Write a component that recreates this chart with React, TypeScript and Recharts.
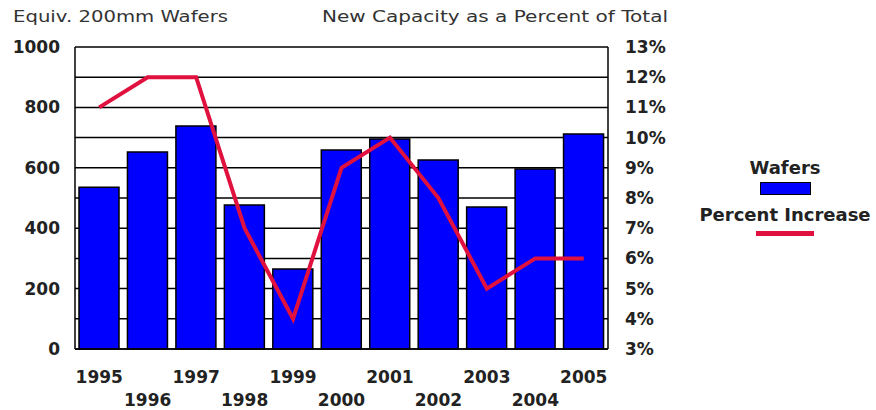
import { ComposedChart, Bar, Line, XAxis, YAxis, CartesianGrid, Legend } from 'recharts';

const years = ['1995', '1996', '1997', '1998', '1999', '2000', '2001', '2002', '2003', '2004', '2005'];
const wafers = [536, 652, 738, 477, 265, 659, 695, 626, 470, 596, 712];
const percentIncrease = [11, 12, 12, 7, 4, 9, 10, 8, 5, 6, 6];
const waferTicks = [0, 200, 400, 600, 800, 1000];
const percentTicks = [3, 4, 5, 6, 7, 8, 9, 10, 11, 12, 13];

const data = years.map((year, i) => ({ year, wafers: wafers[i], percent: percentIncrease[i] }));

const FONT = '"DejaVu Sans", sans-serif';
const tickStyle = { fontSize: 17, fontWeight: 'bold' as const, fill: '#222', fontFamily: FONT };

// years alternate between two rows under the axis
const YearTick = ({ x, y, payload, index }: any) => (
  <text x={x} y={y + (index % 2 === 0 ? 32 : 55)} textAnchor="middle" {...tickStyle}>
    {payload.value}
  </text>
);

// bar entry first, then the line
const LegendBox = ({ payload }: any) => {
  const items = [...(payload || [])].sort((a: any, b: any) => (a.type === 'line' ? 1 : 0) - (b.type === 'line' ? 1 : 0));
  return (
    <div style={{ textAlign: 'center', fontFamily: FONT, fontWeight: 'bold', color: '#222' }}>
      {items.map((entry: any) => (
        <div key={entry.value}>
          <div style={{ fontSize: 18, lineHeight: '20px' }}>{entry.value}</div>
          {entry.type === 'line' ? (
            <div style={{ width: 58, height: 5, background: '#E0103F', margin: '6px auto 0' }} />
          ) : (
            <div
              style={{
                width: 49,
                height: 11,
                background: '#0000FF',
                border: '1px solid #000',
                margin: '4px auto 10px',
              }}
            />
          )}
        </div>
      ))}
    </div>
  );
};

export default function App() {
  return (
    <div style={{ position: 'absolute', left: 0, top: 0, background: '#fff' }}>
      <ComposedChart
        width={876}
        height={410}
        data={data}
        margin={{ top: 47, right: 208, bottom: 0, left: 0 }}
        style={{ fontFamily: FONT }}
      >
        <text x={13} y={22} fontSize={15} fill="#333" textLength={215} lengthAdjust="spacingAndGlyphs">
          Equiv. 200mm Wafers
        </text>
        <text x={322} y={22} fontSize={15} fill="#333" textLength={346} lengthAdjust="spacingAndGlyphs">
          New Capacity as a Percent of Total
        </text>
        <CartesianGrid yAxisId="right" vertical={false} stroke="#000" strokeWidth={1.5} />
        <XAxis
          dataKey="year"
          interval={0}
          height={61}
          tickLine={false}
          tickSize={0}
          axisLine={{ stroke: '#000', strokeWidth: 1.5 }}
          tick={<YearTick />}
        />
        <YAxis
          yAxisId="left"
          domain={[0, 1000]}
          ticks={waferTicks}
          width={75}
          tickLine={false}
          tickSize={0}
          tickMargin={15}
          axisLine={{ stroke: '#000', strokeWidth: 1.5 }}
          tick={tickStyle}
        />
        <YAxis
          yAxisId="right"
          orientation="right"
          domain={[3, 13]}
          ticks={percentTicks}
          tickFormatter={(v) => `${v}%`}
          width={60}
          tickLine={false}
          tickSize={0}
          tickMargin={17}
          axisLine={{ stroke: '#000', strokeWidth: 1.5 }}
          tick={tickStyle}
        />
        <Legend
          layout="vertical"
          align="center"
          verticalAlign="middle"
          content={<LegendBox />}
          wrapperStyle={{ left: 690, top: 158, width: 190 }}
        />
        <Bar
          yAxisId="left"
          dataKey="wafers"
          name="Wafers"
          fill="#0000FF"
          stroke="#000"
          strokeWidth={1.5}
          barSize={40}
          legendType="rect"
          isAnimationActive={false}
        />
        <Line
          yAxisId="right"
          dataKey="percent"
          name="Percent Increase"
          type="linear"
          stroke="#E0103F"
          strokeWidth={4}
          dot={false}
          activeDot={false}
          legendType="line"
          isAnimationActive={false}
        />
      </ComposedChart>
    </div>
  );
}
